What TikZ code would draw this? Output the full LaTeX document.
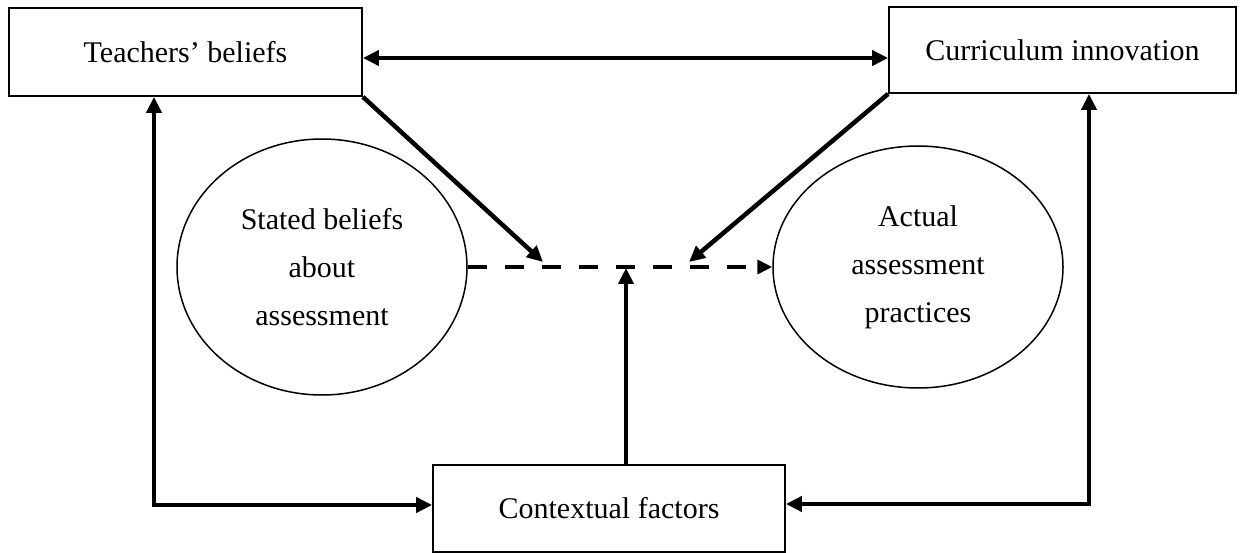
\documentclass[tikz,border=0pt]{standalone}
\usepackage{fontspec}
\setmainfont{Liberation Serif}
\usetikzlibrary{arrows.meta,shapes.geometric}
\begin{document}
\begin{tikzpicture}[x=1pt,y=-1pt,
  boxnode/.style={draw,line width=1.8pt,rectangle,inner sep=0pt,font=\fontsize{30}{36}\selectfont},
  ellnode/.style={draw,line width=1.5pt,ellipse,inner sep=0pt,align=center,font=\fontsize{30}{48}\selectfont},
  thick arr/.style={line width=4.5pt,-{Triangle[length=16pt,width=15pt]}},
  dbl arr/.style={line width=4.5pt,{Triangle[length=16pt,width=15pt]}-{Triangle[length=16pt,width=15pt]}},
  dash arr/.style={line width=4pt,dash pattern=on 19pt off 18pt,-{Triangle[length=15pt,width=14pt]}}]
\useasboundingbox (0,0) rectangle (1242,553);
\node[boxnode,minimum width=353pt,minimum height=88pt] (tb) at (185.5,52) {Teachers’ beliefs};
\node[boxnode,minimum width=347pt,minimum height=86pt] (ci) at (1062.5,50) {Curriculum innovation};
\node[boxnode,minimum width=352pt,minimum height=87pt] (cf) at (609,508.5) {Contextual factors};
\node[ellnode,minimum width=290pt,minimum height=256pt] (sb) at (322,267) {Stated beliefs\\about\\assessment};
\node[ellnode,minimum width=290pt,minimum height=242pt] (ap) at (918,267) {Actual\\assessment\\practices};
\coordinate (m1) at (543,262);
\coordinate (m2) at (689,262);
\coordinate (m3) at (626,268);
\coordinate (lc) at (154,505);
\coordinate (rc) at (1089,504);
\draw[dbl arr] (tb.east |- 0,58) -- (ci.west |- 0,58);
\draw[thick arr] (tb.south east) -- (m1);
\draw[thick arr] (ci.south west) -- (m2);
\draw[thick arr] (cf.north -| m3) -- (m3);
\draw[dash arr] (sb.east) -- (ap.west);
\draw[dbl arr] (tb.south -| lc) -- (lc) -- (lc -| cf.west);
\draw[dbl arr] (ci.south -| rc) -- (rc) -- (rc -| cf.east);
\end{tikzpicture}
\end{document}
